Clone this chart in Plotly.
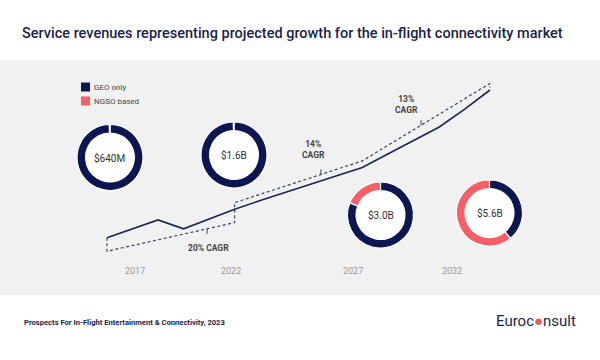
import plotly.graph_objects as go

# ---------------- data ----------------
years = [2017, 2018, 2019, 2020, 2021, 2022, 2023, 2024, 2025, 2026,
         2027, 2028, 2029, 2030, 2031, 2032]
revenue_b = [0.64, 0.94, 1.24, 0.94, 1.28, 1.60, 1.89, 2.17, 2.46, 2.74,
             3.00, 3.45, 3.90, 4.35, 4.95, 5.60]

milestone_years = [2017, 2022, 2027, 2032]
milestone_labels = ["$640M", "$1.6B", "$3.0B", "$5.6B"]
milestone_values = [0.64, 1.6, 3.0, 5.6]
geo_share = [99.7, 99.7, 81, 39]
ngso_share = [0.3, 0.3, 19, 61]
series_names = ["GEO only", "NGSO based"]

cagr_labels = ["20% CAGR", "14%<br>CAGR", "13%<br>CAGR"]
year_labels = ["2017", "2022", "2027", "2032"]

title_text = "Service revenues representing projected growth for the in-flight connectivity market"
source_text = "Prospects For In-Flight Entertainment & Connectivity, 2023"

# ---------------- style / layout ----------------
W, H = 600, 360
NAVY = "#0c1650"
PINK = "#f65f66"
TEXT_NAVY = "#1b1f4b"
BG_GRAY = "#f1f1f1"
FONT = "Roboto"

# axis ranges chosen so the line sits where it should in the band
X_RANGE = [2012.81, 2036.31]
Y_RANGE = [-3.46, 8.62]

# donut placement (pixel centres) and radius
donut_centres = [(110, 157.5), (234, 155), (380.5, 215), (489.5, 213)]
donut_r = 33
year_label_px = [135, 231, 353, 452]
year_label_y_px = 271

# bracket offsets (in $B) and CAGR label placement (year, value)
bracket_lo = 0.45
bracket_up = 0.22
cagr_tick_x = [2020.92, 2025.38, 2029.30]
cagr_tick_dir = [-1, 1, 1]
cagr_label_pos = [(2020.96, 0.30), (2025.07, 3.62), (2028.75, 5.10)]


def px(x):
    return x / W


def py(y):
    return 1 - y / H


fig = go.Figure()

# bracket (dashed) built from the CAGR milestones
v = milestone_values
my = milestone_years
bx = [my[0], my[0], my[1], my[1], my[2], my[3], my[3]]
by = [v[0], v[0] - bracket_lo, v[1] - bracket_lo, v[1] + bracket_up,
      v[2] + bracket_up, v[3] + bracket_up, v[3] + 0.08]
fig.add_trace(go.Scatter(x=bx, y=by, mode="lines",
                         line=dict(color="#3b4163", width=1.2, dash="3px,2.5px"),
                         hoverinfo="skip", showlegend=False))


def bracket_at(x):
    segs = [(my[0], v[0] - bracket_lo, my[1], v[1] - bracket_lo),
            (my[1], v[1] + bracket_up, my[2], v[2] + bracket_up),
            (my[2], v[2] + bracket_up, my[3], v[3] + bracket_up)]
    for x0, y0, x1, y1 in segs:
        if x0 <= x <= x1:
            return y0 + (y1 - y0) * (x - x0) / (x1 - x0)
    return None


tx, ty = [], []
for x, d in zip(cagr_tick_x, cagr_tick_dir):
    b = bracket_at(x)
    tx += [x, x, None]
    ty += [b, b + d * 0.17, None]
fig.add_trace(go.Scatter(x=tx, y=ty, mode="lines",
                         line=dict(color="#3b4163", width=1),
                         hoverinfo="skip", showlegend=False))

# revenue line
fig.add_trace(go.Scatter(x=years, y=revenue_b, mode="lines",
                         line=dict(color="#1c2555", width=1.6),
                         hoverinfo="skip", showlegend=False))

# donuts
for (cx, cy), geo, ngso in zip(donut_centres, geo_share, ngso_share):
    dom = dict(x=[px(cx - donut_r), px(cx + donut_r)],
               y=[py(cy + donut_r), py(cy - donut_r)])
    fig.add_trace(go.Pie(values=[1], labels=["bg"], domain=dom,
                         marker=dict(colors=["white"], line=dict(width=0)),
                         textinfo="none", hoverinfo="skip", sort=False,
                         showlegend=False))
    fig.add_trace(go.Pie(values=[geo, ngso], labels=series_names, domain=dom,
                         hole=0.74, sort=False, direction="clockwise",
                         rotation=0,
                         marker=dict(colors=[NAVY, PINK],
                                     line=dict(color="white", width=1.2)),
                         textinfo="none", hoverinfo="skip", showlegend=False))

annotations = []


def note(x, y, text, font, xanchor="center", yanchor="middle", ref="paper"):
    annotations.append(dict(x=x, y=y, xref=ref, yref=ref if ref == "paper" else "y",
                            text=text, showarrow=False, xanchor=xanchor,
                            yanchor=yanchor, font=font))


for (cx, cy), lab in zip(donut_centres, milestone_labels):
    note(px(cx), py(cy), lab, dict(family=FONT, size=10, color="#333333"))

for lab, (lx, ly) in zip(cagr_labels, cagr_label_pos):
    annotations.append(dict(x=lx, y=ly, xref="x", yref="y", text=lab,
                            showarrow=False, xanchor="center", yanchor="middle",
                            font=dict(family=FONT, size=8.5, color="#444444",
                                      weight="bold")))

for lab, xp in zip(year_labels, year_label_px):
    note(px(xp), py(year_label_y_px), lab,
         dict(family=FONT, size=9, color="#9a9a9a"))

# manual legend
legend_y = [87, 101]
shapes = [dict(type="rect", xref="paper", yref="paper", x0=0, x1=1,
               y0=py(295), y1=py(60), fillcolor=BG_GRAY, line=dict(width=0),
               layer="below")]
for name, col, ly in zip(series_names, [NAVY, PINK], legend_y):
    shapes.append(dict(type="rect", xref="paper", yref="paper",
                       x0=px(81), x1=px(90), y0=py(ly + 4.5), y1=py(ly - 4.5),
                       fillcolor=col, line=dict(width=0)))
    note(px(92), py(ly), name, dict(family=FONT, size=8, color="#444444"),
         xanchor="left")

# footer
note(px(22), py(322), source_text,
     dict(family=FONT, size=7.6, color=TEXT_NAVY, weight="bold"),
     xanchor="left")
note(px(578), py(321), "Euroc<span style='color:#f2545b'>●</span>nsult",
     dict(family=FONT, size=15, color=TEXT_NAVY), xanchor="right")

fig.update_layout(
    width=W, height=H, autosize=False,
    margin=dict(l=0, r=0, t=0, b=0),
    paper_bgcolor="white", plot_bgcolor="rgba(0,0,0,0)",
    title=dict(text=title_text, x=px(22), xanchor="left", y=py(33),
               yanchor="middle",
               font=dict(family=FONT, size=14.5, color=TEXT_NAVY, weight=500)),
    xaxis=dict(range=X_RANGE, visible=False, fixedrange=True),
    yaxis=dict(range=Y_RANGE, visible=False, fixedrange=True),
    shapes=shapes, annotations=annotations, showlegend=False,
)

fig.write_html("out.html", config={"displayModeBar": False},
               post_script="document.body.style.margin='0px';"
                           "document.body.style.overflow='hidden';")
